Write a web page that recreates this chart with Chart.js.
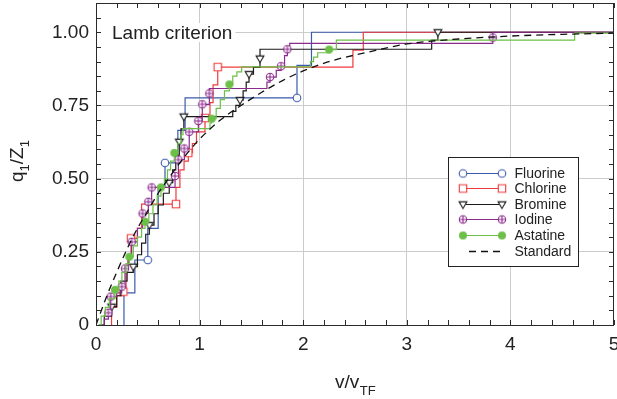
<!DOCTYPE html>
<html><head><meta charset="utf-8">
<script src="https://cdn.jsdelivr.net/npm/chart.js@4.4.1/dist/chart.umd.min.js"></script>
<style>html,body{margin:0;padding:0;background:#fff}#wrap{width:617px;height:399px}</style>
</head><body><div id="wrap"><canvas id="c" width="617" height="399"></canvas></div>
<script>
// ---------- data ----------
const xTicks = [0, 1, 2, 3, 4, 5];
const yTicks = [0, 0.25, 0.5, 0.75, 1.0];
const xMinorStep = 0.2;
const yMinorStep = 0.05;

const fluorineX = [0.27,0.27,0.375,0.50,0.50,0.60,0.666,0.79,0.86,1.94,1.94,2.08,5.0];
const fluorineY = [0,0.11,0.222,0.222,0.33,0.47,0.554,0.665,0.776,0.776,0.887,1.0,1.0];
const fluorineMarks = [0,0,0,1,0,0,1,0,0,1,0,0,0];

const chlorineX = [0.15,0.15,0.20,0.264,0.29,0.31,0.338,0.40,0.44,0.44,0.772,0.772,0.81,0.85,0.891,0.93,0.97,1.052,1.10,1.13,1.175,2.48,2.58,5.0];
const chlorineY = [0,0.06,0.10,0.114,0.19,0.24,0.296,0.33,0.36,0.413,0.413,0.47,0.53,0.56,0.588,0.62,0.66,0.707,0.76,0.82,0.881,0.939,1.0,1.0];
const chlorineMarks = [0,0,0,1,0,0,1,0,0,0,1,0,0,0,1,0,0,1,0,0,1,0,0,0];

const bromineX = [0.05,0.08,0.151,0.20,0.24,0.30,0.36,0.40,0.44,0.48,0.515,0.56,0.60,0.65,0.707,0.74,0.77,0.804,0.82,0.848,1.32,1.35,1.39,1.42,1.45,1.477,1.52,1.583,1.583,3.24,3.30,5.0];
const bromineY = [0,0.03,0.0625,0.10,0.15,0.18,0.199,0.24,0.28,0.31,0.341,0.38,0.41,0.45,0.486,0.53,0.58,0.626,0.67,0.712,0.73,0.75,0.768,0.80,0.83,0.857,0.88,0.91,0.942,0.973,1.0,1.0];
const bromineMarks = [0,0,1,0,0,0,1,0,0,0,1,0,0,0,1,0,0,1,0,1,0,0,1,0,0,1,0,1,0,0,1,0];

const iodineX = [0.03,0.08,0.119,0.142,0.20,0.248,0.28,0.31,0.344,0.40,0.45,0.505,0.537,0.763,0.795,0.853,0.90,0.988,1.026,1.094,1.094,1.65,1.68,1.74,1.786,1.82,1.847,1.87,3.83,3.83,5.0];
const iodineY = [0,0.02,0.042,0.097,0.11,0.131,0.193,0.24,0.284,0.33,0.381,0.421,0.47,0.509,0.565,0.603,0.66,0.697,0.754,0.791,0.808,0.83,0.847,0.87,0.884,0.92,0.942,0.962,0.982,1.0,1.0];
const iodineMarks = [0,0,1,1,0,1,1,0,1,0,1,1,1,1,1,1,1,1,1,1,0,0,1,0,1,0,1,0,1,0,0];

const astatineX = [0.02,0.05,0.09,0.13,0.183,0.22,0.25,0.29,0.322,0.36,0.40,0.44,0.473,0.51,0.55,0.59,0.627,0.66,0.69,0.72,0.756,0.79,0.82,0.84,1.10,1.117,1.16,1.20,1.24,1.287,1.32,1.36,1.406,2.07,2.10,2.14,2.25,2.32,4.62,5.0];
const astatineY = [0,0.03,0.06,0.09,0.12,0.15,0.18,0.21,0.233,0.27,0.30,0.33,0.353,0.38,0.41,0.44,0.47,0.50,0.53,0.56,0.588,0.62,0.65,0.671,0.69,0.705,0.74,0.77,0.80,0.822,0.85,0.865,0.882,0.90,0.915,0.93,0.941,0.973,0.997,0.997];
const astatineMarks = [0,0,0,0,1,0,0,0,1,0,0,0,1,0,0,0,1,0,0,0,1,0,0,0,0,1,0,0,0,1,0,0,0,0,0,0,1,0,0,0];

const standardX = [0,0.1,0.2,0.3,0.4,0.5,0.6,0.7,0.8,0.9,1.0,1.2,1.4,1.6,1.8,2.0,2.3,2.6,3.0,3.5,4.0,4.5,5.0];
const standardY = [0,0.095,0.18,0.26,0.33,0.39,0.45,0.50,0.55,0.595,0.635,0.70,0.75,0.795,0.835,0.868,0.905,0.93,0.96,0.977,0.987,0.993,0.997];

// ---------- markers ----------
const FONT = '"Liberation Sans", Arial, Helvetica, sans-serif';
function makeMarker(kind, color) {
  const c = document.createElement('canvas');
  c.width = 12; c.height = 12;
  const g = c.getContext('2d');
  g.translate(6, 6);
  g.lineWidth = 1.1; g.strokeStyle = color; g.fillStyle = '#fff';
  g.beginPath();
  if (kind === 'circle') { g.arc(0, 0, 3.8, 0, Math.PI*2); g.fill(); g.stroke(); }
  else if (kind === 'square') { g.rect(-3.7, -3.7, 7.4, 7.4); g.fill(); g.stroke(); }
  else if (kind === 'tri') { g.moveTo(-3.9, -2.6); g.lineTo(3.9, -2.6); g.lineTo(0, 4.0); g.closePath(); g.fill(); g.stroke(); }
  else if (kind === 'oplus') {
    g.arc(0, 0, 3.7, 0, Math.PI*2); g.fill(); g.stroke();
    g.beginPath(); g.moveTo(-3.7, 0); g.lineTo(3.7, 0); g.moveTo(0, -3.7); g.lineTo(0, 3.7); g.stroke();
  }
  else if (kind === 'dot') { g.fillStyle = color; g.arc(0, 0, 4.0, 0, Math.PI*2); g.fill(); }
  return c;
}

const series = [
  {label:'Fluorine', xs:fluorineX, ys:fluorineY, marks:fluorineMarks, color:'#3a5bab', marker:'circle', order:6},
  {label:'Chlorine', xs:chlorineX, ys:chlorineY, marks:chlorineMarks, color:'#ef3b3b', marker:'square', order:5},
  {label:'Bromine', xs:bromineX, ys:bromineY, marks:bromineMarks, color:'#1a1a1a', marker:'tri', order:4},
  {label:'Iodine', xs:iodineX, ys:iodineY, marks:iodineMarks, color:'#8a2b8c', marker:'oplus', order:3},
  {label:'Astatine', xs:astatineX, ys:astatineY, marks:astatineMarks, color:'#6cbf47', marker:'dot', order:2},
];

const datasets = series.map(s => {
  const img = makeMarker(s.marker, s.color);
  return {
    label: s.label,
    data: s.xs.map((x, i) => ({x, y: s.ys[i]})),
    borderColor: s.color,
    backgroundColor: s.color,
    borderWidth: 1.2,
    stepped: 'before',
    order: s.order,
    markerImg: img,
    pointStyle: ctx => s.marks[ctx.dataIndex] ? img : false,
    pointRadius: ctx => s.marks[ctx.dataIndex] ? 4 : 0,
    pointHoverRadius: ctx => s.marks[ctx.dataIndex] ? 4 : 0,
  };
});
datasets.push({
  label: 'Standard',
  data: standardX.map((x, i) => ({x, y: standardY[i]})),
  borderColor: '#111',
  borderWidth: 1.3,
  borderDash: [7, 5],
  pointRadius: 0,
  cubicInterpolationMode: 'monotone',
  order: 1,
});

const decor = {
  id: 'decor',
  beforeDraw(chart) {
    const ctx = chart.ctx;
    ctx.save(); ctx.fillStyle = '#fff'; ctx.fillRect(0, 0, chart.width, chart.height); ctx.restore();
  },
  afterDraw(chart) {
    const {ctx, chartArea: a, scales: {x, y}} = chart;
    ctx.save();
    // frame
    ctx.strokeStyle = '#2b2b2b'; ctx.lineWidth = 1;
    ctx.strokeRect(a.left + 0.5, a.top + 0.5, a.right - a.left - 1, a.bottom - a.top);
    // minor/major ticks, inward, all sides
    ctx.beginPath();
    const nx = Math.round((x.max - x.min) / xMinorStep);
    for (let k = 0; k <= nx; k++) {
      const px = Math.round(x.getPixelForValue(x.min + k * xMinorStep)) + 0.5;
      ctx.moveTo(px, a.bottom); ctx.lineTo(px, a.bottom - 5);
      ctx.moveTo(px, a.top); ctx.lineTo(px, a.top + 5);
    }
    const ny = Math.floor((y.max - y.min) / yMinorStep + 1e-6);
    for (let k = 0; k <= ny; k++) {
      const py = Math.round(y.getPixelForValue(y.min + k * yMinorStep)) + 0.5;
      ctx.moveTo(a.left, py); ctx.lineTo(a.left + 5, py);
      ctx.moveTo(a.right, py); ctx.lineTo(a.right - 5, py);
    }
    ctx.stroke();

    // "Lamb criterion"
    ctx.font = '19px ' + FONT;
    const title = 'Lamb criterion';
    const tw = ctx.measureText(title).width;
    ctx.fillStyle = '#fff';
    ctx.fillRect(a.left + 5, a.top + 20, tw + 14, 19);
    ctx.fillStyle = '#222';
    ctx.textBaseline = 'alphabetic'; ctx.textAlign = 'left';
    ctx.fillText(title, a.left + 16, a.top + 36);

    // x axis title v/v_TF
    const mainF = '19px ' + FONT, subF = '13px ' + FONT;
    ctx.font = mainF; const w1 = ctx.measureText('v/v').width;
    ctx.font = subF; const w2 = ctx.measureText('TF').width;
    const cx = (a.left + a.right) / 2;
    let sx = cx - (w1 + w2) / 2;
    ctx.font = mainF; ctx.fillText('v/v', sx, 388);
    ctx.font = subF; ctx.fillText('TF', sx + w1 + 0.5, 395);

    // y axis title q_1/Z_1
    ctx.save();
    ctx.translate(23, (a.top + a.bottom) / 2 - 3);
    ctx.rotate(-Math.PI / 2);
    const parts = [['q', mainF, 0], ['1', subF, 6], ['/Z', mainF, 0], ['1', subF, 6]];
    let total = 0;
    parts.forEach(p => { ctx.font = p[1]; p.push(ctx.measureText(p[0]).width); total += p[3]; });
    let px0 = -total / 2;
    parts.forEach(p => { ctx.font = p[1]; ctx.fillText(p[0], px0, p[2]); px0 += p[3]; });
    ctx.restore();

    // legend
    const lx = a.left + 352.5, ly = a.top + 154.5, lw = 130, lh = 109;
    ctx.fillStyle = '#fff'; ctx.fillRect(lx, ly, lw, lh);
    ctx.strokeStyle = '#222'; ctx.lineWidth = 1; ctx.strokeRect(lx, ly, lw, lh);
    ctx.font = '14px ' + FONT; ctx.textBaseline = 'middle';
    chart.data.datasets.forEach((ds, i) => {
      const ry = Math.round(ly + 15 + i * 15.65) + 0.5;
      const x1 = lx + 14.5, x2 = lx + 53.5;
      ctx.strokeStyle = ds.borderColor; ctx.lineWidth = ds.borderWidth;
      ctx.setLineDash(ds.borderDash || []);
      ctx.beginPath();
      if (ds.markerImg) { ctx.moveTo(x1 + 3, ry); ctx.lineTo(x2 - 3, ry); }
      else { ctx.moveTo(x1 + 6, ry); ctx.lineTo(x2 + 2, ry); }
      ctx.stroke();
      ctx.setLineDash([]);
      if (ds.markerImg) {
        ctx.drawImage(ds.markerImg, x1 - 6, ry - 6);
        ctx.drawImage(ds.markerImg, x2 - 6, ry - 6);
      }
      ctx.fillStyle = '#222';
      ctx.fillText(ds.label, lx + 66, ry + 0.5);
    });
    ctx.restore();
  }
};

new Chart(document.getElementById('c'), {
  type: 'line',
  data: { datasets },
  options: {
    responsive: false,
    devicePixelRatio: 1,
    animation: false,
    events: [],
    layout: { padding: { top: 3, right: 3, left: 0, bottom: 0 } },
    plugins: { legend: { display: false }, tooltip: { enabled: false } },
    scales: {
      x: {
        type: 'linear', min: 0, max: 5,
        afterBuildTicks: s => { s.ticks = xTicks.map(v => ({value: v})); },
        afterFit: s => { s.height = 74; s.paddingLeft = 0; s.paddingRight = 0; },
        ticks: { font: { family: FONT, size: 19 }, color: '#222', padding: 8, maxRotation: 0, autoSkip: false,
                 callback: v => String(v) },
        grid: { color: c => (c.tick && (c.tick.value === 0 || c.tick.value === 5)) ? 'rgba(0,0,0,0)' : '#cccccc', drawTicks: false, lineWidth: 1 },
        border: { display: false }
      },
      y: {
        type: 'linear', min: 0, max: 1.1,
        afterBuildTicks: s => { s.ticks = yTicks.map(v => ({value: v})); },
        afterFit: s => { s.width = 96; s.paddingTop = 0; s.paddingBottom = 0; },
        ticks: { font: { family: FONT, size: 19 }, color: '#222', padding: 7,
                 callback: v => v === 0 ? '0' : v.toFixed(2) },
        grid: { color: c => (c.tick && c.tick.value === 0) ? 'rgba(0,0,0,0)' : '#cccccc', drawTicks: false, lineWidth: 1 },
        border: { display: false }
      }
    }
  },
  plugins: [decor]
});
</script>
</body></html>
